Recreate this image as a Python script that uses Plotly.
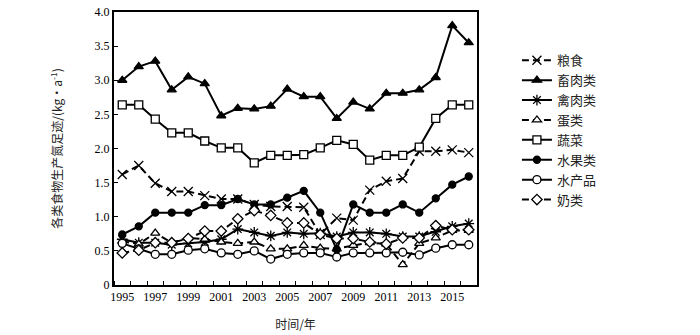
import plotly.graph_objects as go

years = list(range(1995, 2017))

grain = [1.62, 1.75, 1.49, 1.37, 1.37, 1.31, 1.26, 1.26, 1.18, 1.15, 1.15,
         1.14, 0.74, 0.98, 0.95, 1.39, 1.52, 1.56, 1.96, 1.96, 1.98, 1.94]
livestock = [3.00, 3.20, 3.28, 2.86, 3.05, 2.95, 2.48, 2.59, 2.58, 2.62, 2.87,
             2.76, 2.76, 2.44, 2.68, 2.58, 2.81, 2.81, 2.86, 3.04, 3.80, 3.55]
poultry = [0.67, 0.62, 0.62, 0.59, 0.61, 0.63, 0.67, 0.82, 0.77, 0.72, 0.77,
           0.75, 0.76, 0.71, 0.77, 0.77, 0.75, 0.71, 0.71, 0.78, 0.86, 0.90]
eggs = [0.64, 0.60, 0.76, 0.62, 0.69, 0.67, 0.63, 0.61, 0.63, 0.53, 0.53,
        0.58, 0.54, 0.53, 0.58, 0.62, 0.60, 0.30, 0.61, 0.69, 0.80, 0.80]
vegetables = [2.64, 2.64, 2.43, 2.23, 2.23, 2.11, 2.01, 2.01, 1.79, 1.90, 1.90,
              1.91, 2.01, 2.12, 2.06, 1.83, 1.90, 1.90, 2.02, 2.44, 2.64, 2.64]
fruits = [0.74, 0.86, 1.06, 1.06, 1.06, 1.17, 1.17, 1.26, 1.18, 1.18, 1.28,
          1.38, 1.06, 0.52, 1.18, 1.06, 1.06, 1.18, 1.06, 1.27, 1.47, 1.59]
aquatic = [0.61, 0.53, 0.45, 0.45, 0.51, 0.53, 0.47, 0.45, 0.50, 0.38, 0.45,
           0.47, 0.47, 0.41, 0.47, 0.47, 0.47, 0.48, 0.44, 0.54, 0.59, 0.59]
dairy = [0.47, 0.51, 0.62, 0.62, 0.68, 0.79, 0.79, 0.97, 1.09, 1.02, 0.91,
         0.91, 0.74, 0.68, 0.68, 0.63, 0.60, 0.69, 0.69, 0.87, 0.81, 0.81]

names = ["粮食", "畜肉类", "禽肉类", "蛋类", "蔬菜", "水果类", "水产品", "奶类"]
series = [grain, livestock, poultry, eggs, vegetables, fruits, aquatic, dairy]
symbols = ["x-thin-open", "triangle-up", "asterisk-open", "triangle-up",
           "square", "circle", "circle", "diamond"]
fills = ["black", "black", "black", "white", "white", "black", "white", "white"]
dashes = ["7px,4px", "solid", "solid", "7px,4px", "solid", "solid", "solid", "7px,4px"]
sizes = [9, 8, 9, 8, 8, 7, 8, 8]

xtick_vals = list(range(1995, 2017, 2))
ytick_vals = [0, 0.5, 1.0, 1.5, 2.0, 2.5, 3.0, 3.5, 4.0]
ytick_text = ["0", "0.5", "1.0", "1.5", "2.0", "2.5", "3.0", "3.5", "4.0"]

fig = go.Figure()
for name, vals, sym, fc, dsh, sz in zip(names, series, symbols, fills, dashes, sizes):
    fig.add_trace(go.Scatter(
        x=years, y=vals, name=name, mode="lines+markers",
        line=dict(color="black", width=2, dash=dsh),
        marker=dict(symbol=sym, size=sz, color=fc,
                    line=dict(color="black", width=1.3)),
    ))

fig.update_layout(
    width=700, height=335,
    margin=dict(l=114, r=223, t=5, b=42),
    plot_bgcolor="white", paper_bgcolor="white",
    showlegend=True,
    legend=dict(x=1.11, y=0.878, xanchor="left", yanchor="top",
                font=dict(family="Noto Sans CJK SC", size=13, color="#222"),
                bgcolor="rgba(0,0,0,0)", tracegroupgap=0),
    font=dict(family="Liberation Serif", color="black"),
)
fig.update_xaxes(
    range=[1994.5, 2016.5], tickvals=xtick_vals, ticktext=[str(v) for v in xtick_vals],
    ticks="", showgrid=False, zeroline=False,
    showline=True, linecolor="black", linewidth=2, mirror=True,
    tickfont=dict(family="Liberation Serif", size=12, color="black"),
    minor=dict(ticks="inside", tick0=1995.5, dtick=1, ticklen=4, tickcolor="black", tickwidth=1),
    title=dict(text="时间/年", font=dict(family="Noto Sans CJK SC", size=12, color="#222"), standoff=17),
)
fig.update_yaxes(
    range=[0, 4.0], tickvals=ytick_vals, ticktext=ytick_text,
    ticks="inside", ticklen=4, tickcolor="black", tickwidth=1,
    showgrid=False, zeroline=False,
    showline=True, linecolor="black", linewidth=2, mirror=True,
    tickfont=dict(family="Liberation Serif", size=12, color="black"),
    title=dict(text="各类食物生产氮足迹/(kg·a<sup>-1</sup>)",
               font=dict(family="Noto Sans CJK SC", size=12, color="#222"), standoff=29),
)

fig.write_html("out.html")
